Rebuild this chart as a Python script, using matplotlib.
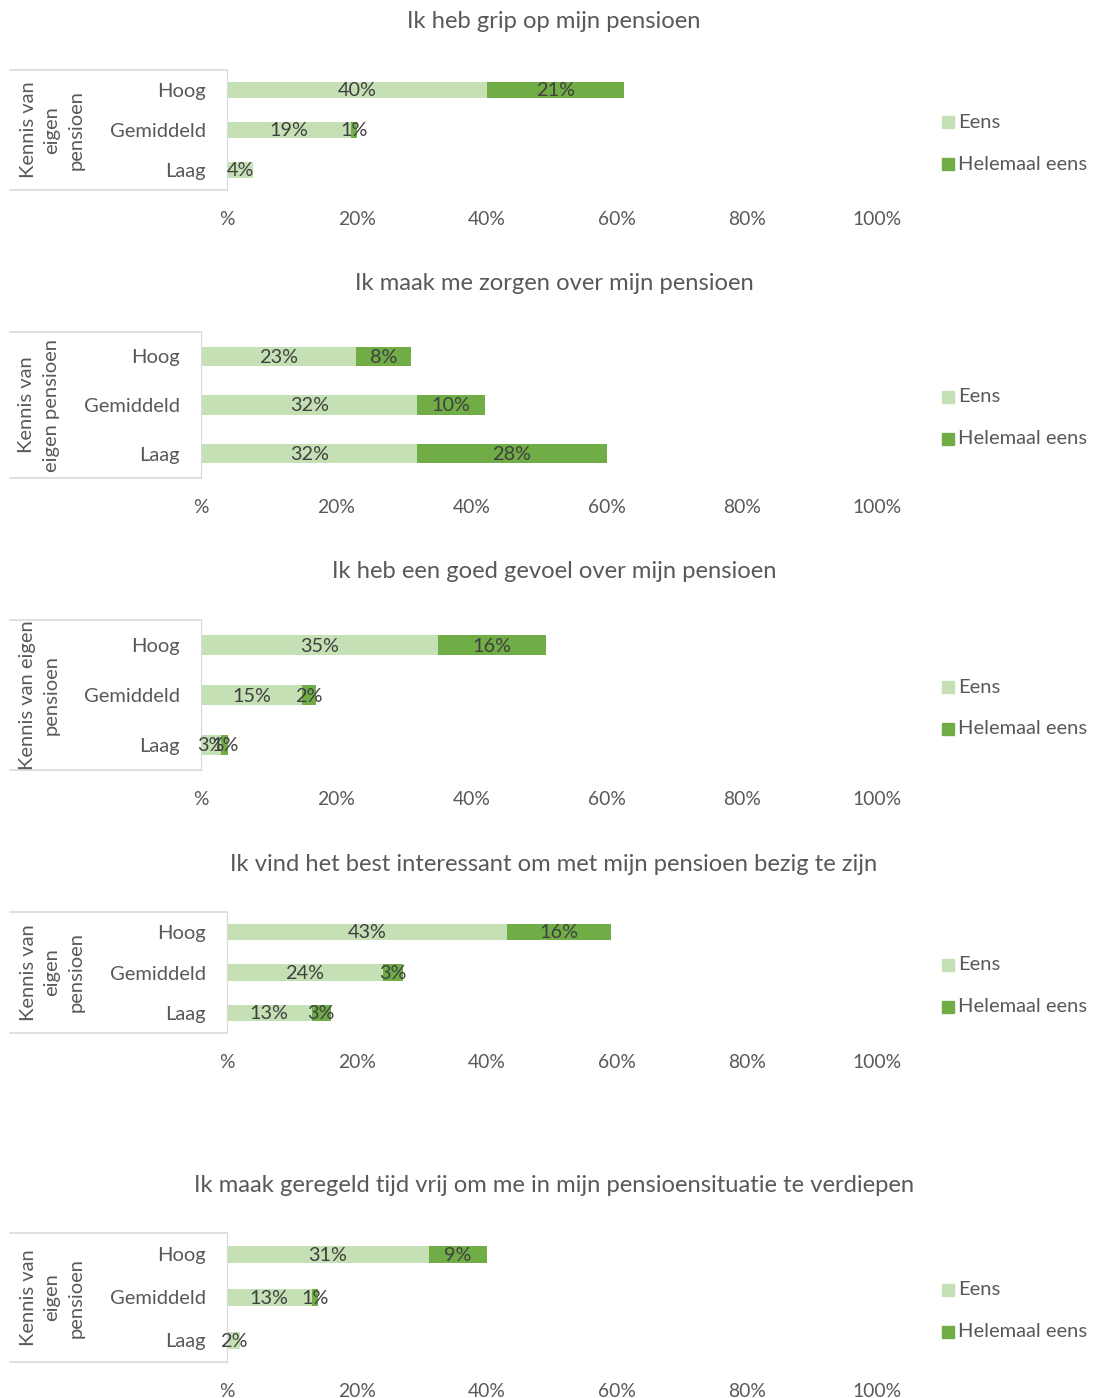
import matplotlib
matplotlib.use("Agg")
import matplotlib.pyplot as plt
from matplotlib.patches import Rectangle
from matplotlib.lines import Line2D

plt.rcParams['font.family'] = ['Lato', 'DejaVu Sans']

W, H = 1096, 1398
categories = ["Hoog", "Gemiddeld", "Laag"]
series_names = ["Eens", "Helemaal eens"]
colors = ["#C5E0B4", "#70AD47"]
tick_values = [0, 20, 40, 60, 80, 100]
tick_labels = ["%", "20%", "40%", "60%", "80%", "100%"]

titles = [
    "Ik heb grip op mijn pensioen",
    "Ik maak me zorgen over mijn pensioen",
    "Ik heb een goed gevoel over mijn pensioen",
    "Ik vind het best interessant om met mijn pensioen bezig te zijn",
    "Ik maak geregeld tijd vrij om me in mijn pensioensituatie te verdiepen",
]
group_labels = [
    "Kennis van\neigen\npensioen",
    "Kennis van\neigen pensioen",
    "Kennis van eigen\npensioen",
    "Kennis van\neigen\npensioen",
    "Kennis van\neigen\npensioen",
]
eens = [
    [40, 19, 4],
    [23, 32, 32],
    [35, 15, 3],
    [43, 24, 13],
    [31, 13, 2],
]
helemaal_eens = [
    [21, 1, 0],
    [8, 10, 28],
    [16, 2, 1],
    [16, 3, 3],
    [9, 1, 0],
]

# layout in pixels: (axis left, box top, box bottom, title y, group label center x)
layout = [
    (227, 70, 190, 22, 52),
    (201, 332, 478, 284, 39),
    (201, 620, 770, 572, 39),
    (227, 912, 1033, 864, 52),
    (227, 1233, 1362, 1185, 52),
]
x_right = 877

fig = plt.figure(figsize=(W / 100, H / 100), dpi=100)

def fx(x):
    return x / W

def fy(y):
    return 1 - y / H

txt_col = "#595959"
lbl_col = "#404040"
grid_col = "#D9D9D9"

for i in range(5):
    x0, top, bot, ty, gx = layout[i]
    ax = fig.add_axes([fx(x0), fy(bot), fx(x_right - x0), (bot - top) / H])
    ypos = list(range(len(categories)))
    ax.barh(ypos, eens[i], height=0.4, color=colors[0], label=series_names[0])
    ax.barh(ypos, helemaal_eens[i], left=eens[i], height=0.4, color=colors[1], label=series_names[1])
    for j in ypos:
        if eens[i][j] > 0:
            ax.text(eens[i][j] / 2, j + 0.02, f"{eens[i][j]}%", ha="center", va="center",
                    fontsize=14.3, color=lbl_col)
        if helemaal_eens[i][j] > 0:
            ax.text(eens[i][j] + helemaal_eens[i][j] / 2, j + 0.02, f"{helemaal_eens[i][j]}%",
                    ha="center", va="center", fontsize=14.3, color=lbl_col)
    ax.set_xlim(0, 100)
    ax.set_ylim(2.5, -0.5)
    ax.set_yticks(ypos)
    ax.set_yticklabels(categories, fontsize=14.5, color=txt_col)
    ax.tick_params(axis="y", length=0, pad=15)
    ax.set_xticks(tick_values)
    ax.set_xticklabels(tick_labels, fontsize=13.9, color=txt_col)
    ax.tick_params(axis="x", length=0, pad=15)
    for s in ["top", "right", "bottom"]:
        ax.spines[s].set_visible(False)
    ax.spines["left"].set_color(grid_col)
    ax.patch.set_visible(False)

    # category box lines
    fig.add_artist(Line2D([fx(10), fx(x0)], [fy(top), fy(top)], color=grid_col, lw=1.2))
    fig.add_artist(Line2D([fx(10), fx(x0)], [fy(bot), fy(bot)], color=grid_col, lw=1.2))

    # group label
    fig.text(fx(gx), fy((top + bot) / 2), group_labels[i], rotation=90,
             ha="center", va="center", fontsize=14.5, color=txt_col, linespacing=1.5,
             multialignment="center")

    # title
    fig.text(fx(554), fy(ty), titles[i], ha="center", va="center", fontsize=17.1, color=txt_col)

    # legend
    cy = (top + bot) / 2
    for k, (name, col) in enumerate(zip(series_names, colors)):
        yy = cy - 8 + k * 42
        fig.add_artist(Rectangle((fx(942), fy(yy + 6)), 12 / W, 12 / H, color=col,
                                 transform=fig.transFigure))
        fig.text(fx(958), fy(yy), name, ha="left", va="center", fontsize=14.5, color=txt_col)

fig.savefig("out.png", dpi=100, facecolor="white")
